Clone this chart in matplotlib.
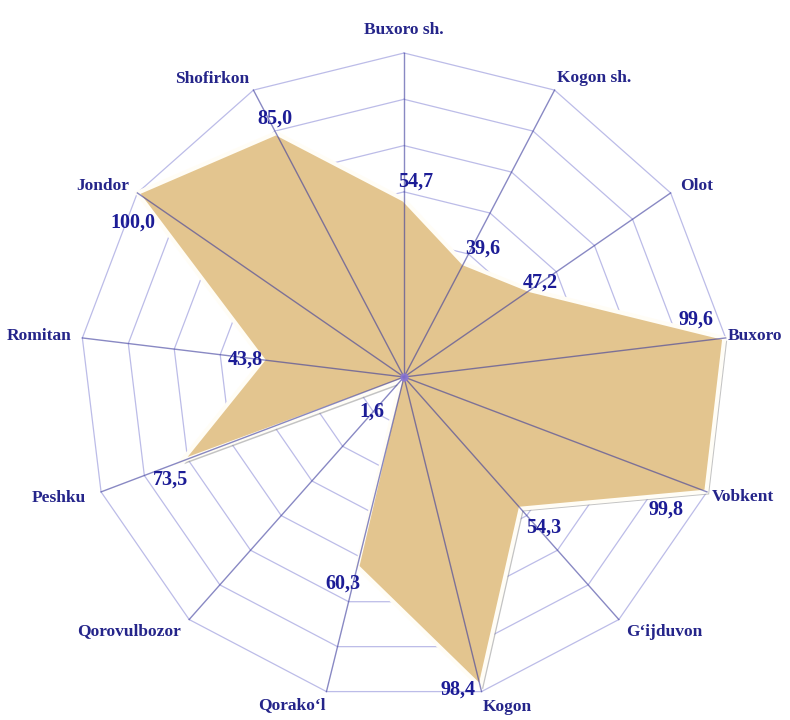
import numpy as np
import matplotlib.pyplot as plt
import matplotlib.patheffects as pe

# Data
categories = ["Buxoro sh.", "Kogon sh.", "Olot", "Buxoro", "Vobkent", "G‘ijduvon",
              "Kogon", "Qorako‘l", "Qorovulbozor", "Peshku", "Romitan", "Jondor", "Shofirkon"]
values = [54.7, 39.6, 47.2, 99.6, 99.8, 54.3, 98.4, 60.3, 1.6, 73.5, 43.8, 100.0, 85.0]
value_labels = ["54,7", "39,6", "47,2", "99,6", "99,8", "54,3", "98,4",
                "60,3", "1,6", "73,5", "43,8", "100,0", "85,0"]
r_max = 100
n_rings = 7

# Label offsets in pixels (dx right, dy down)
cat_offsets = [(0, -23), (40, -12), (26, -7), (29, -2), (36, 5), (45, 12), (26, 15),
               (-35, 14), (-60, 12), (-42, 6), (-43, -2), (-35, -7), (-41, -11)]
val_offsets = [(12, -18), (19, -15), (10, -8), (-28, -19), (-40, 18), (23, 19), (-22, 3),
               (-14, 17), (-29, 31), (-11, 18), (-18, 0), (-4, 30), (-1, -15)]

n = len(categories)
theta = np.arange(n) * 2 * np.pi / n  # clockwise from the top

def to_xy(r):
    r = np.asarray(r, dtype=float) / r_max
    return r * np.sin(theta), r * np.cos(theta)

W, H = 790, 720
cx, cy, R = 404, 377, 324  # pixel position of the centre and radius of 100
fig = plt.figure(figsize=(W / 100, H / 100), dpi=100)
ax = fig.add_axes([0, 0, 1, 1])
ax.set_xlim(-cx / R, (W - cx) / R)
ax.set_ylim(-(H - cy) / R, cy / R)
ax.axis("off")

# Rings
for k in range(1, n_rings + 1):
    gx, gy = to_xy(np.full(n, r_max * k / n_rings))
    ax.plot(np.append(gx, gx[0]), np.append(gy, gy[0]), color="#bcbce8", lw=0.9, zorder=1)

# Filled area
x, y = to_xy(values)
poly = ax.fill(x, y, facecolor="#e3c58f", edgecolor="#fffdf6", lw=3, zorder=2)[0]
poly.set_path_effects([pe.SimplePatchShadow(offset=(2, -2), shadow_rgbFace="#7a7a7a", alpha=0.45),
                       pe.Normal()])

# Spokes
ox, oy = to_xy(np.full(n, r_max))
for i in range(n):
    ax.plot([0, ox[i]], [0, oy[i]], color="#3a3a9c", lw=1.0, alpha=0.6, zorder=3)
ax.plot(0, 0, "o", color="#8c78d8", ms=5, alpha=0.8, zorder=4)

# Category labels
for i in range(n):
    dx, dy = cat_offsets[i]
    ax.annotate(categories[i], (ox[i], oy[i]), xytext=(dx * 0.72, -dy * 0.72),
                textcoords="offset points", ha="center", va="center",
                fontsize=12.5, fontweight="bold", family="Liberation Serif",
                color="#25258a", zorder=5)

# Value labels
for i in range(n):
    dx, dy = val_offsets[i]
    ax.annotate(value_labels[i], (x[i], y[i]), xytext=(dx * 0.72, -dy * 0.72),
                textcoords="offset points", ha="center", va="center",
                fontsize=14.5, fontweight="bold", family="Liberation Serif",
                color="#1c1c96", zorder=5)

fig.savefig("out.png", dpi=100)
